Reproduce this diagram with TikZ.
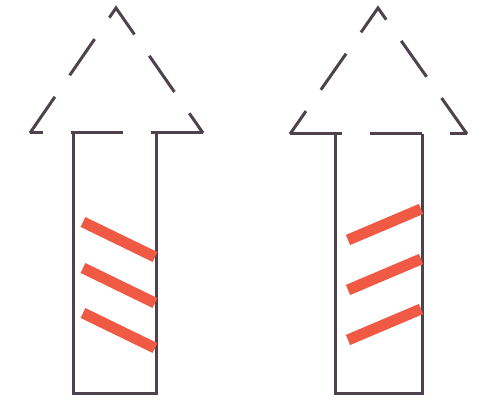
\documentclass[tikz,border=0pt]{standalone}
\usetikzlibrary{calc}
\definecolor{outline}{HTML}{4E434C}
\definecolor{stripe}{HTML}{F05A45}

\begin{document}
\begin{tikzpicture}[x=1pt, y=-1pt,
    side/.style={draw=outline, line width=3pt, dash pattern=on 44pt off 26pt},
    base/.style={draw=outline, line width=3pt, dash pattern=on 52pt off 28pt},
    body/.style={draw=outline, line width=3pt},
    band/.style={draw=stripe, line width=11pt}
]
\useasboundingbox (0,0) rectangle (477,403);

% left arrow
\coordinate (LA) at (116,8);
\coordinate (LL) at (30,133);
\coordinate (LR) at (203,133);
\coordinate (LB1) at (73,133);
\coordinate (LB2) at (156,133);
\draw[side] (LL) -- (LA) -- (LR);
\draw[base] (LR) -- (LL);
\draw[body] (LB1) -- (LB1 |- 0,394) -- (LB2 |- 0,394) -- (LB2);
\foreach \y in {222,268,313}
    \draw[band] (83,\y) -- (155,\y+35);

% right arrow
\coordinate (RA) at (378,8);
\coordinate (RL) at (290,134);
\coordinate (RR) at (467,134);
\coordinate (RB1) at (335,134);
\coordinate (RB2) at (422,134);
\draw[side] (RR) -- (RA) -- (RL);
\draw[base] (RL) -- (RR);
\draw[body] (RB1) -- (RB1 |- 0,394) -- (RB2 |- 0,394) -- (RB2);
\foreach \y in {240,290,340}
    \draw[band] (348,\y) -- (421,\y-31);
\end{tikzpicture}
\end{document}
